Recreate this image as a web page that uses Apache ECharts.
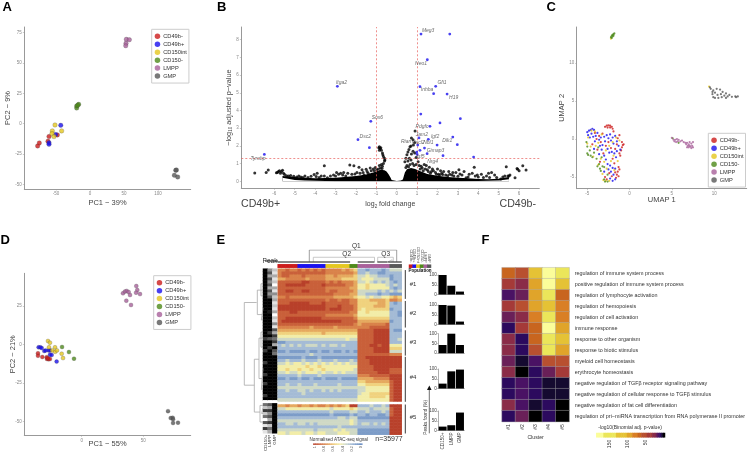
<!DOCTYPE html>
<html><head><meta charset="utf-8">
<style>html,body{margin:0;padding:0;background:#fff}#c{width:748px;height:454px}</style>
<script src="https://cdn.jsdelivr.net/npm/echarts@6/dist/echarts.min.js"></script>
</head><body><div id="c"></div>
<script>
const populations=['CD49b-','CD49b+','CD150int','CD150-','LMPP','GMP'];
const popColors=['#cc1b1b','#1a10ee','#e5c71f','#4e8a1a','#a8609a','#585858'];

// Panel A (PC1, PC2)
const aRed=[[-77,-18.4],[-74.5,-15.9],[-60.3,-10.7],[-61.8,-14.6],[-48,-9.3]];
const aBlue=[[-60.3,-15.7],[-60.3,-17],[-50.5,-9],[-43,-1.4]];
const aYellow=[[-51.5,-1.1],[-55.4,-6],[-55.9,-8.2],[-53,-10.7],[-41.7,-6]];
const aGreen=[[-19.6,12.9],[-19.6,14.6],[-16.7,15.9],[-18,15.1]];
const aLmpp=[[53.4,69.5],[57.8,69.2],[52.9,66.2],[52.5,64.3]];
const aGmp=[[126,-38.5],[124,-42.6],[128.9,-44],[127,-38.2]];
const aXTicks=[-50,0,50,100], aYTicks=[-50,-25,0,25,50,75];

// Panel D (PC1, PC2)
const dRed=[[-35.4,-5.6],[-35.4,-7.2],[-31.9,-8],[-28.4,-8.2],[-28.1,-9.3],[-26.8,-9.5],[-25.7,-9.3],[-27.5,-8.6]];
const dBlue=[[-34.9,-1.7],[-33.5,-1.7],[-32.4,-2.2],[-30.3,-4.1],[-29.2,-3.7],[-26.8,-3.7],[-25.7,-6.5],[-24.3,-6.7],[-20.3,-11],[-25.5,-3.8]];
const dYellow=[[-27.3,2.4],[-25.7,1.3],[-26.5,-1.7],[-21.6,-1.7],[-23.8,-3.7],[-21.4,-4.6],[-20,-3.7],[-16.2,-5.9],[-15.1,-8.7]];
const dGreen=[[-15.9,-1.5],[-10.3,-4.8],[-6.2,-9.1]];
const dLmpp=[[44.3,38.1],[45.1,35.5],[44.1,33.8],[47.3,32.9],[33.5,33.4],[35.1,34.5],[36.5,34.9],[38.1,34.2],[39.2,32.3],[36.2,28.6],[40,25.8]];
const dGmp=[[70,-43.2],[72.2,-47.7],[73.8,-47.5],[74.1,-48.5],[74.1,-50.9],[78.1,-50.7]];
const dXTicks=[0,50], dYTicks=[-50,-25,0,25];

// Panel C (UMAP)
const cRed=[[-2.9,1.6],[-2.7,1.75],[-2.5,1.8],[-2.3,1.75],[-2.1,1.6],[-2,1.35],[-2.6,1.5],[-2.3,1.5],[-1.9,1],[-1.2,0.5],[-0.9,-0.4],[-0.8,-0.8],[-0.7,-0.7],[-0.9,-1.1],[-1,-1.5],[-1.2,-1.9],[-1.1,-2.2],[-1.4,0.1],[-1.5,-0.7],[-1.7,-1.3],[-1.3,-3.7],[-1.2,-4],[-1.4,-4.3],[-1.5,-4.7],[-1.7,-4.4],[-1.3,-4.9],[-1.6,-5.1],[-2.1,-4.9],[-2.7,-5.3],[-2.9,-5],[-2.4,-4.5],[-4.1,0.8],[-3.9,0],[-3.6,0.4],[-3.4,-0.4],[-3.2,0.7],[-4.4,-0.7],[-3.8,-1.4],[-3.1,-1.9],[-2.8,-0.9],[-2.5,-0.4],[-2.2,-1.2],[-2,-2.6],[-3.5,-3],[-1.8,-3.2]];
const cBlue=[[-5,0.9],[-4.8,1.1],[-4.6,1.2],[-4.4,1.35],[-4.2,1.2],[-4.9,0.5],[-4.7,0.2],[-4.5,0.7],[-4.3,0.3],[-4.1,-0.3],[-3.8,0.8],[-3.6,-0.1],[-3.4,0.2],[-3.2,-0.8],[-3,0.3],[-2.9,-0.3],[-2.7,0.5],[-2.5,0.1],[-2.3,0.6],[-2.2,-0.2],[-2,0.2],[-1.9,-0.6],[-1.7,0.4],[-1.5,-0.3],[-1.3,-0.9],[-2.6,-1.3],[-2.4,-1.8],[-2.1,-1.7],[-1.8,-1.9],[-1.6,-2.4],[-3,-2.2],[-3.3,-1.4],[-3.6,-2],[-4.2,-1.3],[-2.8,-2.7],[-2.6,-3.3],[-2.3,-3.5],[-2,-3.8],[-1.7,-3.9],[-2.5,-4],[-2.2,-4.3],[-1.9,-4.7],[-1.7,-5.3],[-2,-5.5],[-2.3,-5.2],[-3,-4.3],[-1.1,-1.4],[-1.5,-1.6],[-3.5,-0.9],[-4,0.4]];
const cYellow=[[-4.9,0.2],[-4.5,1.1],[-4.1,1],[-5,-0.6],[-4.6,-1],[-4,-0.9],[-3.7,-0.5],[-3.3,0.6],[-2.8,-1.5],[-2.4,-0.9],[-2,-0.4],[-1.6,0.2],[-1.2,-0.2],[-1.9,-2.2],[-3.4,-2.6],[-3,-3],[-2.7,-3.9],[-3.2,-4.6],[-2.8,-5.5],[-2.4,-5.5],[-1.8,-4.1],[-2.2,-2.9],[-1.4,-2.9],[-3.1,-5.4],[-3.7,-3.4],[-4.3,-2.3],[-2.2,13.2],[9.4,6.9]];
const cGreen=[[-5.1,-0.4],[-5,-1],[-5,-1.9],[-4.9,-2.1],[-4.7,-1.5],[-4.6,-2.2],[-4.4,-2.4],[-4.2,-1.8],[-3.9,-2.6],[-3.8,-3.6],[-3.6,-3.3],[-3.5,-3.9],[-3.4,-4.2],[-3.2,-3.6],[-3,-3.7],[-2.6,-4.7],[-3,-5.3],[-2.9,-5.6],[-2.6,-5.6],[-3.7,-1.1],[-3.3,-2.4],[-2.2,13.4],[-2.1,13.6],[-2,13.7],[-1.9,13.8],[-2,13.5],[-1.8,13.9],[-2.1,13.3],[-1.9,13.6],[5.1,0.1],[5.8,-0.5]];
const cLmpp=[[5,0.15],[5.2,-0.1],[5.3,-0.3],[5.4,-0.1],[5.5,-0.4],[5.6,0],[5.7,-0.3],[5.8,-0.1],[6,-0.3],[6.2,-0.2],[6.4,-0.4],[6.6,-0.5],[6.7,-0.7],[6.8,-0.5],[6.9,-0.9],[7,-0.7],[7.1,-0.9],[7.2,-1],[7.3,-0.6],[7.4,-0.9],[7.5,-0.4],[7.5,-1.1],[7.3,-1.2],[7,-1.1],[6.8,-1.1],[7.1,-0.4]];
const cGmp=[[9.5,6.8],[9.6,6.6],[9.9,6.4],[10.3,6.6],[10.7,6.5],[10.1,6.1],[9.8,5.9],[9.9,5.5],[10.1,5.4],[10.4,5.8],[10.8,5.9],[11,6.2],[11.2,5.7],[11.4,6],[11.6,5.6],[11.8,5.8],[12.1,5.55],[12.5,5.6],[12.8,5.6],[12.6,5.5],[10.5,5.4],[9.8,6.2],[10.9,5.5],[11.4,5.4]];
const cXTicks=[-5,0,5,10], cYTicks=[-5,0,5,10];

// Panel B (log2 fold change, -log10 adjusted p)
const vTicksX=[-6,-5,-4,-3,-2,-1,0,1,2,3,4,5,6], vTicksY=[0,1,2,3,4,5,6,7,8];
const vSignificant=[[1.19,8.32],[2.6,8.32],[1.5,6.87],[-2.91,5.37],[1.14,5.35],[1.91,5.37],[1.81,4.95],[2.47,4.93],[1.18,3.8],[3.12,3.54],[-1.27,3.39],[2.12,3.3],[1.63,3.11],[1.09,2.45],[1.55,2.37],[2.75,2.5],[-1.9,2.35],[1.98,2.05],[2.97,2.07],[1.03,2.05],[-1.34,1.9],[1.36,1.88],[1.14,1.75],[1.49,1.56],[0.98,1.65],[2.27,1.45],[3.77,1.37],[-6.49,1.52],[1,1.52]];
const vCloudUpper=[[-5.6,0.3],[-5,0.25],[-4.5,0.2],[-4,0.17],[-3,0.2],[-2,0.3],[-1.5,0.38],[-1.2,0.48],[-1,0.55],[-0.8,0.65],[-0.6,0.62],[-0.5,0.55],[-0.4,0.4],[-0.3,0.2],[-0.25,0.08],[-0.2,0.04],[0,0.02],[0.2,0.04],[0.3,0.1],[0.35,0.3],[0.4,0.5],[0.5,0.68],[0.7,0.75],[0.9,0.7],[1.1,0.6],[1.5,0.42],[2,0.32],[2.5,0.25],[3,0.2],[3.5,0.17],[4,0.13],[4.5,0.12],[5,0.15],[5.5,0.25]];
const vCloudLower=[[-5.6,0.2],[-5,0.08],[-4.5,0.05],[-4,0.03],[-3,0.01],[-2,0],[2,0],[3,0],[4,0.02],[4.5,0.03],[5,0.05],[5.5,0.12]];
const vOutliers=[[-6.96,0.47],[-6.4,0.5],[-6.3,0.64],[-5.85,0.5],[-5.8,0.55],[-5.75,0.6],[-5.7,0.45],[-5.65,0.55],[-5.6,0.62],[-5.55,0.45],[-5.5,0.38],[-5.3,0.3],[-5.2,0.33],[-5.05,0.28],[-4.9,0.25],[-4.7,0.24],[-4.6,0.22],[-4.35,0.22],[-4.05,0.38],[-3.95,0.27],[-3.8,0.22],[-3.9,0.45],[-3.55,0.88],[-3.4,0.2],[-3.25,0.3],[-3,0.3],[-2.95,0.5],[-2.85,0.4],[-2.65,0.35],[-2.5,0.3],[-2.3,0.92],[-2.1,0.88],[-2.05,0.42],[-1.85,0.8],[-1.7,0.65],[-1.6,0.35],[-1.5,0.68],[-1.3,0.75],[-1.15,0.7],[-1.05,0.78],[-0.95,0.5],[-0.85,0.9],[-0.8,0.75],[-0.75,0.95],[-0.7,0.85],[-0.65,1],[-0.6,1.15],[-0.6,1.3],[-0.58,1.2],[-0.88,1.9],[-0.85,1.95],[-0.82,1.85],[-0.78,1.9],[-0.85,1.75],[-0.75,1.75],[-0.7,1.6],[-0.68,1.5],[-0.65,1.4],[0.72,2.45],[0.8,2.35],[0.88,2.2],[0.9,2.85],[0.82,2.05],[0.7,2],[0.65,1.95],[0.6,1.8],[0.55,1.65],[0.5,1.5],[0.45,1.3],[0.4,1.1],[0.55,1.15],[0.62,1.3],[0.72,1.55],[0.8,1.7],[0.88,1.6],[0.95,1.35],[0.7,1.2],[0.78,1],[0.5,0.9],[0.45,0.78],[0.58,0.82],[0.65,0.95],[0.85,0.9],[0.95,0.95],[1.05,1.1],[1.1,0.9],[1.2,0.85],[1.25,0.75],[1.35,0.95],[1.4,0.7],[1.45,0.9],[1.5,0.65],[1.6,0.8],[1.7,0.55],[1.8,0.6],[1.9,0.5],[2,0.7],[2.05,0.4],[2.15,0.6],[2.2,0.45],[2.3,0.55],[2.4,0.35],[2.55,0.55],[2.7,0.35],[2.8,0.3],[2.9,0.5],[3.05,0.65],[3.2,0.35],[3.3,0.55],[3.5,0.25],[3.7,0.45],[3.8,0.8],[3.85,0.3],[4,0.25],[4.15,0.4],[4.4,0.3],[4.5,0.45],[4.65,0.5],[4.8,0.35],[5.1,0.13],[5.37,0.82],[5.5,0.3],[5.55,0.35],[5.9,0.73],[5.93,0.68],[6.18,0.88],[6.34,0.64],[5.8,0.2],[6,0.6],[-5.9,0.48],[-5.4,0.32],[-4.8,0.3],[-4.5,0.3],[-4.2,0.28],[-3.7,0.3],[-3.55,0.3],[-3.1,0.35],[-2.75,0.45],[-2.6,0.5],[-2.4,0.45],[-2.2,0.4],[-1.95,0.5],[-1.8,0.45],[-1.65,0.5],[-1.45,0.55],[-1.4,0.45],[-1.25,0.6],[-1.1,0.6],[-0.98,0.65],[-0.9,0.7],[-0.72,0.72],[1.15,0.7],[1.3,0.6],[1.55,0.55],[1.65,0.45],[1.75,0.7],[1.95,0.4],[2.1,0.35],[2.25,0.38],[2.5,0.32],[2.6,0.4],[2.75,0.5],[3,0.28],[3.1,0.42],[3.4,0.2],[3.55,0.4],[3.95,0.35],[4.25,0.22],[4.55,0.22],[4.9,0.22],[5.2,0.25],[5.3,0.3],[5.45,0.3]];
const vGenes=[[1.54,8.51,'Meg3'],[1.19,6.67,'Neo1'],[-2.71,5.59,'Itga2'],[2.22,5.56,'Gfi1'],[1.49,5.16,'Inhba'],[2.79,4.75,'H19'],[-0.95,3.58,'Sox6'],[1.24,3.07,'Pdgfc'],[1.23,2.66,'Jam2'],[1.88,2.54,'Igf2'],[2.48,2.28,'Dlk1'],[-1.54,2.54,'Dsc2'],[0.46,2.24,'Rian'],[1.06,2.2,'Cxcl2'],[1.55,2.2,'Nbl1'],[1.9,1.75,'Gimap3'],[1.16,1.39,'Igf5'],[1.76,1.13,'Nrg4'],[-6.8,1.28,'Tyrobp']];

// Panel E heatmap: each string is one row, digit 0-9 = normalised signal x 9
const eColumns=['CD49b-','CD49b-','CD49b-','CD49b-','CD49b-','CD49b+','CD49b+','CD49b+','CD49b+','CD49b+','CD49b+','CD49b+','CD150int','CD150int','CD150int','CD150int','CD150int','CD150int','CD150-','CD150-','LMPP','LMPP','LMPP','LMPP','LMPP','LMPP','LMPP','LMPP','GMP','GMP','GMP'];
const eRows=[
"77877 8787878 777767 65 22122212 333",
"78888 8888888 777777 76 22322112 222",
"78877 7877777 667666 65 33433222 122",
"66777 7767777 666655 55 34443333 122",
"88888 8998888 787877 76 33432323 212",
"88999 9988889 888887 76 44544443 232",
"88888 8888888 777777 66 44544444 212",
"88998 8998888 788777 76 33333232 323",
"88888 8888888 887777 66 33222122 111",
"77877 7777777 776666 65 44343344 565",
"88888 8888888 788788 77 55566665 776",
"88899 9998889 888888 77 55555665 212",
"99999 9999999 888988 87 55556665 222",
"99999 9999999 899988 87 54555555 122",
"88899 8888888 888888 77 44544444 221",
"88888 8888888 777777 76 44444444 221",
"88999 9999998 888888 87 55555555 222",
"89999 9999999 999988 88 66666666 122",
"88888 8888888 888888 87 67777778 222",
"77777 7776777 776777 77 77788888 222",
"66666 6666666 666666 66 88889999 211",
"55555 5555556 555555 55 88889999 222",
"44444 4444444 444444 44 88889999 222",
"33333 3333333 333334 33 88889999 223",
"11222 2222222 222222 22 88889999 222",
"23232 3233323 233232 22 88899899 444",
"22222 2222222 222222 22 88889999 555",
"11211 1121121 121121 21 88889999 333",
"22222 2223222 222222 22 88888888 777",
"11111 1211121 111111 11 88999999 999",
"22322 2322232 223222 32 88899999 999",
"33434 4343434 343434 33 88899999 999",
"44444 4454454 444444 44 88889999 999",
"44544 5445445 444444 43 88889999 888",
"33433 4344434 334343 33 88888999 888",
"22222 3222232 222222 22 77788888 999",
"11211 2112112 111211 11 66667777 999",
"22222 2222222 222222 22 55666666 899",
"22322 3222322 222322 22 44555555 899",
"33333 3333333 333333 33 33444444 899",
"22322 3323223 232322 22 33444444 899",
"22222 2322222 222222 22 34455555 899",
"22222 2222222 222222 22 44455554 899",
"33333 3333333 333333 33 44444444 899",
"",
"66766 7667677 676765 99 22232232 999",
"33444 4444444 434444 54 33323333 899",
"22222 2222222 232222 33 22322232 899",
"11111 1111111 121111 21 22122112 899",
"22222 2222222 222332 33 11111111 999",
"33333 3333333 333333 43 22222222 999",
"22332 3323233 333333 43 23323232 999",
"22222 2222222 222322 22 22222222 999",
"33333 3333233 334343 33 11111111 999",
"44344 4344344 333444 33 11111111 999"];
const ePeakLabels=['CD150+','LMPP','GMP'];
const ePeakCD150="9999999999"+"9999999999"+"999799979"+"997999799799979"+"0"+"5272506171";
const ePeakLMPP ="4636463646"+"9999899999"+"979699799"+"999999999999999"+"0"+"6374637253";
const ePeakGMP  ="2131203142"+"3121302141"+"637573965"+"999999999999999"+"0"+"9999999999";
const eBarLabels=['CD150+','LMPP','GMP'];
const eBars1=[100,45,15], eBars2=[100,97,15], eBars3=[42,100,42], eBars4=[25,88,97], eBars5=[20,27,92];
const eSignalBar=[1,.95,.9,.85,.8,.75,.7,.65,.6,.55,.5,.45,.4,.35,.3,.25,.2,.15,.1,.05,0];
const eClusterRanges=[[0.45,10],[10.7,19.5],[20.4,28.8],[29.2,44.1],[45,54.6]];
const eRowDendro=[[[19,11.2],[56,11.2],[56,38.6],[26,38.6]],[[0,7.1],[17,7.1],[17,15.2],[0,15.2]],[[17,11.2],[19,11.2]],[[12,30],[26,30],[26,47.5],[9,47.5]],[[0,23],[12,23],[12,36.4],[0,36.4]],[[0,45.3],[9,45.3],[9,50.8],[0,50.8]],[[0,5],[6,5],[6,9],[0,9]],[[0,13],[5,13],[5,17],[0,17]],[[0,21],[6,21],[6,26],[0,26]],[[0,33],[5,33],[5,40],[0,40]],[[0,46],[4,46],[4,48],[0,48]]];
const eColDendroQ1=[[7.9,0],[7.9,37],[29.75,37],[29.75,0]];
const eColDendroQ2=[[8.9,0],[8.9,14],[24.2,14],[24.2,0]];
const eColDendroQ3=[[25,0],[25,14],[28.9,14],[28.9,0]];
const eColDendroQ4=[[27.6,0],[27.6,6],[28.6,6],[28.6,0]];
const eLeafRuns=[[[0,-2],[18.1,-2]],[[20,-2],[24.2,-2]],[[24.9,-2],[27.5,-2]],[[27.6,-2],[31,-2]]];

// Panel F
const fTerms=['regulation of immune system process','positive regulation of immune system process','regulation of lymphocyte activation','regulation of hemopoiesis','regulation of cell activation','immune response','response to other organism','response to biotic stimulus','myeloid cell homeostasis','erythrocyte homeostasis','negative regulation of TGFβ receptor signaling pathway','negative regulation of cellular response to TGFβ stimulus','negative regulation of fat cell differentiation','regulation of pri−miRNA transcription from RNA polymerase II promoter'];
const fClusters=['#1','#2','#3','#4','#5'];
const fValues=[[66,53,111,184,150],[40,26,95,184,111],[12,18,95,150,66],[40,53,95,111,80],[18,26,80,150,80],[8,40,66,184,95],[26,8,66,150,111],[26,8,53,150,95],[18,4,12,53,53],[26,0,8,18,40],[8,12,8,4,4],[8,12,8,4,4],[26,12,4,8,0],[8,18,0,8,0]];
const fScale=[185,180,175,170,165,160,155,150,145,140,135,130,125,120,115,110,105,100,95,90,85,80,75,70,65,60,55,50,45,40,35,30,25,20,15,10,5,0];
const fPieces=[{min:165,color:'#fbfd9a'},{min:130,max:165,color:'#ebe65a'},{min:103,max:130,color:'#e5c235'},{min:88,max:103,color:'#e0a42a'},{min:73,max:88,color:'#d97f25'},{min:60,max:73,color:'#c8651f'},{min:46,max:60,color:'#b85030'},{min:33,max:46,color:'#a53a38'},{min:22,max:33,color:'#8a2c48'},{min:15,max:22,color:'#6a2058'},{min:10,max:15,color:'#4a1264'},{min:6,max:10,color:'#2c0a5e'},{min:2,max:6,color:'#150a30'},{min:-1,max:2,color:'#000000'}];

const FONT='"Liberation Sans",Arial,sans-serif';
const grid=[],xAxis=[],yAxis=[],series=[],legend=[],graphic=[];
function addGrid(l,t,w,h){grid.push({left:l,top:t,width:w,height:h,containLabel:false});return grid.length-1;}
function txt(x,y,s,size,o){o=o||{};graphic.push({type:'text',x:x,y:y,rotation:o.rot||0,silent:true,z:50,style:{text:s,font:(o.weight||'normal')+' '+size+'px '+FONT,fill:o.color||'#333',textAlign:o.align||'center',textVerticalAlign:'middle'}});}
function valueAxes(g,xr,yr,xt,yt,xn,yn,xgap,ygap){
  const line={show:true,onZero:false,lineStyle:{color:'#999',width:1}};
  const lab={fontSize:4.5,color:'#888',margin:2.5};
  const nm={fontSize:7.5,color:'#444',fontFamily:FONT};
  xAxis.push({gridIndex:g,type:'value',min:xr[0],max:xr[1],splitLine:{show:false},axisLine:line,axisTick:{show:true,length:1.5,customValues:xt,lineStyle:{color:'#999',width:.5}},axisLabel:Object.assign({customValues:xt},lab),name:xn,nameLocation:'middle',nameGap:xgap,nameMoveOverlap:false,nameTextStyle:nm});
  yAxis.push({gridIndex:g,type:'value',min:yr[0],max:yr[1],splitLine:{show:false},axisLine:line,axisTick:{show:true,length:1.5,customValues:yt,lineStyle:{color:'#999',width:.5}},axisLabel:Object.assign({customValues:yt},lab),name:yn,nameLocation:'middle',nameGap:ygap,nameMoveOverlap:false,nameTextStyle:nm});
  return xAxis.length-1;
}
function groupScatter(ai,groups,size,bw){
  groups.forEach((d,i)=>series.push({type:'scatter',name:populations[i],xAxisIndex:ai,yAxisIndex:ai,data:d,symbolSize:size,itemStyle:{color:popColors[i],borderColor:'#444',borderWidth:bw}}));
}
function addLegend(l,t,pad){
  legend.push({show:true,data:populations,left:l,top:t,orient:'vertical',icon:'circle',itemWidth:5.5,itemHeight:5.5,itemGap:1.95,padding:pad,borderColor:'#ccc',borderWidth:1,backgroundColor:'#fff',selectedMode:false,z:20,itemStyle:{borderWidth:0},textStyle:{fontSize:5.7,color:'#333',fontFamily:FONT,padding:[0,0,0,-2]}});
}
function hidden(g,xr,yr,inverse){
  xAxis.push({gridIndex:g,type:'value',min:xr[0],max:xr[1],show:false});
  yAxis.push({gridIndex:g,type:'value',min:yr[0],max:yr[1],show:false,inverse:!!inverse});
  return xAxis.length-1;
}
function polyline(ai,pts,color,w){series.push({type:'line',xAxisIndex:ai,yAxisIndex:ai,data:pts,showSymbol:false,symbol:'none',silent:true,lineStyle:{color:color,width:w}});}
function catHeatmap(g,xcats,ycats,data,xo,yo,cellExtra){
  xAxis.push(Object.assign({gridIndex:g,type:'category',data:xcats,axisLine:{show:false},axisTick:{show:false},axisLabel:{show:false},splitLine:{show:false}},xo||{}));
  yAxis.push(Object.assign({gridIndex:g,type:'category',data:ycats,axisLine:{show:false},axisTick:{show:false},axisLabel:{show:false},splitLine:{show:false}},yo||{}));
  const ai=xAxis.length-1;
  series.push({type:'heatmap',xAxisIndex:ai,yAxisIndex:ai,data:data,silent:true,itemStyle:Object.assign({borderWidth:0},cellExtra||{}),progressive:0});
  return series.length-1;
}

// ---- A
let g=addGrid(24.3,27,166.4,162), ai=valueAxes(g,[-96.6,148],[-53.9,79.7],aXTicks,aYTicks,'PC1 − 39%','PC2 − 9%',10,12);
groupScatter(ai,[aRed,aBlue,aYellow,aGreen,aLmpp,aGmp],4.5,.3);
addLegend(151.7,29.3,[4,2,4,3]);
// ---- D
g=addGrid(24.3,273.3,166.4,162); ai=valueAxes(g,[-46.5,88.4],[-58.9,46.4],dXTicks,dYTicks,'PC1 − 55%','PC2 − 21%',5,7.6);
groupScatter(ai,[dRed,dBlue,dYellow,dGreen,dLmpp,dGmp],4,.3);
addLegend(153.7,275.7,[4,2,4,3]);
// ---- C
g=addGrid(576.7,27,170,161.7); ai=valueAxes(g,[-6.25,13.85],[-6.54,14.74],cXTicks,cYTicks,'UMAP 1','UMAP 2',7.3,11);
groupScatter(ai,[cRed,cBlue,cYellow,cGreen,cLmpp,cGmp],2.2,0);
addLegend(708.3,133.3,[4,2,4,3]);
// ---- B
g=addGrid(241.3,27,298,161.3);
ai=valueAxes(g,[-7.62,6.99],[-0.395,8.72],vTicksX,vTicksY,'','',11,11.5);
xAxis[ai].name='{a|log}{s|2}{a| fold change}';
xAxis[ai].nameTextStyle={rich:{a:{fontSize:7,color:'#444',fontFamily:FONT},s:{fontSize:4.5,color:'#444',verticalAlign:'bottom',fontFamily:FONT,padding:[4,0,0,0]}}};
xAxis[ai].nameGap=11.7;
yAxis[ai].name='{a|−log}{s|10}{a| adjusted p−value}';
yAxis[ai].nameTextStyle={rich:{a:{fontSize:7.3,color:'#444',fontFamily:FONT},s:{fontSize:4.5,color:'#444',fontFamily:FONT,padding:[4,0,0,0]}}};
yAxis[ai].nameGap=8;
const areaLine=(d,c,z)=>series.push({type:'line',xAxisIndex:ai,yAxisIndex:ai,data:d,showSymbol:false,symbol:'none',silent:true,lineStyle:{width:0},itemStyle:{color:c},areaStyle:{color:c,opacity:1},z:z});
areaLine(vCloudUpper,'#000',2);
areaLine(vCloudLower,'#fff',3);
series.push({type:'scatter',xAxisIndex:ai,yAxisIndex:ai,data:vOutliers,symbolSize:3,itemStyle:{color:'#000'},z:4});
series.push({type:'scatter',xAxisIndex:ai,yAxisIndex:ai,data:vSignificant,symbolSize:2.8,itemStyle:{color:'#1a10ee'},z:5,
  markLine:{silent:true,symbol:'none',label:{show:false},animation:false,lineStyle:{color:'#e8605c',type:[2,2],width:.7},data:[{xAxis:-1},{xAxis:1},{yAxis:1.3}]}});
series.push({type:'scatter',xAxisIndex:ai,yAxisIndex:ai,data:vGenes,symbolSize:1,itemStyle:{color:'transparent'},z:6,silent:true,
  label:{show:true,position:'inside',fontSize:5,fontStyle:'italic',color:'#444',fontFamily:FONT,formatter:p=>p.data[2]},labelLayout:{hideOverlap:false}});

// ---- E heatmap
const eCells=[];
eRows.forEach((r,ri)=>{const s=r.replace(/ /g,'');for(let c=0;c<s.length;c++)eCells.push([c,ri,+s[c]/9]);});
const rowCats=eRows.map((_,i)=>String(i));
const colCats=eColumns.map((_,i)=>String(i));
g=addGrid(277.7,268.7,124,166);
const sE=catHeatmap(g,colCats,rowCats,eCells,null,{inverse:true});
g=addGrid(277.7,264.3,124,3.4);
const sPop=catHeatmap(g,colCats,['p'],eColumns.map((n,i)=>[i,0,populations.indexOf(n)]));
g=addGrid(409,264.7,22,3);
const sKey=catHeatmap(g,populations,['k'],populations.map((n,i)=>[i,0,i]),{position:'top',axisLabel:{show:true,rotate:90,fontSize:3.8,color:'#555',margin:2,interval:0,fontFamily:FONT}});
const peakCols=[ePeakCD150,ePeakLMPP,ePeakGMP], peakCells=[];
peakCols.forEach((s,c)=>{for(let r=0;r<s.length;r++)peakCells.push([c,r,+s[r]]);});
g=addGrid(263,268.7,14,166);
const sPeak=catHeatmap(g,ePeakLabels,rowCats,peakCells,{axisLabel:{show:true,rotate:90,fontSize:4.4,color:'#444',margin:1.5,interval:0,fontFamily:FONT}},{inverse:true});
g=addGrid(313.3,443.7,49,3.6);
const sSig=catHeatmap(g,eSignalBar.map(String),['s'],eSignalBar.map((v,i)=>[i,0,v]),{axisLabel:{show:true,rotate:90,fontSize:3.8,color:'#555',margin:1.5,interval:3,fontFamily:FONT}});
g=addGrid(244.3,268.7,18.7,166); ai=hidden(g,[56,0],[0,55],true);
eRowDendro.forEach(p=>polyline(ai,p,'#a8a8a8',.8));
g=addGrid(277.7,250,124,12); ai=hidden(g,[0,31],[-1,37]);
polyline(ai,eColDendroQ1,'#888',.8);polyline(ai,eColDendroQ2,'#bbb',.8);polyline(ai,eColDendroQ3,'#bbb',.8);polyline(ai,eColDendroQ4,'#bbb',.8);
g=addGrid(277.7,260,124,4); ai=hidden(g,[0,31],[-4,0]);
eLeafRuns.forEach(p=>polyline(ai,p,'#111',1.2));
g=addGrid(265,260,13,4); ai=hidden(g,[0,1],[-4,0]);
polyline(ai,[[0,-1],[1,-1]],'#111',1);
g=addGrid(404.8,268.7,1,166); ai=hidden(g,[0,1],[0,55],true);
eClusterRanges.forEach(r=>polyline(ai,[[.5,r[0]],[.5,r[1]]],'#222',.9));
[[275,eBars1],[305,eBars2],[333.7,eBars3],[369,eBars4],[411,eBars5]].forEach((b,i)=>{
  const gi=addGrid(438.3,b[0],26,19.5);
  xAxis.push({gridIndex:gi,type:'category',data:eBarLabels,axisLine:{lineStyle:{color:'#999',width:.8}},axisTick:{show:false},axisLabel:{show:i===4,rotate:90,fontSize:4.6,color:'#444',margin:2,interval:0,fontFamily:FONT}});
  yAxis.push({gridIndex:gi,type:'value',min:0,max:100,interval:50,splitLine:{show:false},axisLine:{show:true,lineStyle:{color:'#999',width:.8}},axisTick:{show:true,length:1.5,lineStyle:{color:'#999',width:.5}},axisLabel:{fontSize:4.6,color:'#444',margin:1.5,fontFamily:FONT}});
  const a=xAxis.length-1;
  series.push({type:'bar',xAxisIndex:a,yAxisIndex:a,data:b[1],barCategoryGap:'8%',itemStyle:{color:'#000'},silent:true});
});

// ---- F
const fCells=[];
fValues.forEach((r,ri)=>r.forEach((v,ci)=>fCells.push([ci,ri,v])));
g=addGrid(502,267.7,68,154);
const sF=catHeatmap(g,fClusters,fTerms,fCells,
  {name:'Cluster',nameLocation:'middle',nameGap:13.5,nameTextStyle:{fontSize:5.2,color:'#333',fontFamily:FONT},axisLabel:{show:true,rotate:90,fontSize:5,color:'#333',margin:2.5,interval:0,fontFamily:FONT}},
  {inverse:true,position:'right',axisLabel:{show:true,fontSize:5.4,color:'#333',margin:5.5,interval:0,fontFamily:FONT}},
  {borderColor:'#aaa',borderWidth:.4});
g=addGrid(596.3,433,68.7,4.3);
const sFBar=catHeatmap(g,fScale.map(String),['f'],fScale.map((v,i)=>[i,0,v]),{axisLabel:{show:true,rotate:90,fontSize:5,color:'#333',margin:2.5,fontFamily:FONT,interval:(i,v)=>v==='150'||v==='100'||v==='50'}});

const visualMap=[
 {type:'continuous',show:false,seriesIndex:[sE,sSig],min:0,max:1,inRange:{color:['#5a82bd','#7c9cc8','#a4bbd5','#cfd9c5','#f2eda8','#f0d27e','#e5a95f','#d9824a','#c9603a','#b8402a']}},
 {type:'continuous',show:false,seriesIndex:[sPeak],min:0,max:9,inRange:{color:['#ffffff','#000000']}},
 {type:'piecewise',show:false,seriesIndex:[sPop,sKey],pieces:popColors.map((c,i)=>({value:i,color:c}))},
 {type:'piecewise',show:false,seriesIndex:[sF,sFBar],pieces:fPieces}
];

// ---- text
[['A',2.5,7],['B',217,7],['C',546.5,7],['D',0.5,240],['E',216.5,240],['F',481.5,240]].forEach(l=>txt(l[1],l[2],l[0],13,{align:'left',weight:'bold',color:'#000'}));
txt(241,204,'CD49b+',10.6,{align:'left',color:'#444'});
txt(536,204,'CD49b-',10.6,{align:'right',color:'#444'});
txt(270,261,'Peak',6.5);
txt(356.3,246.3,'Q1',6.5);txt(346.7,254.3,'Q2',6.5);txt(385.7,254.3,'Q3',6.5);
[284.3,313.3,342,377,417.3].forEach((y,i)=>txt(413,y,'#'+(i+1),6));
txt(338.7,439.3,'Normalised ATAC-seq signal',4.6);
txt(389,438.7,'n=35977',7);
txt(420,270.3,'Population',4.5,{weight:'bold',color:'#111'});
txt(425.7,417.3,'Peaks found (%)',4.7,{rot:Math.PI/2});
txt(630,428,'-log10(Binomial adj. p-value)',5);
graphic.push({type:'line',silent:true,shape:{x1:429.3,y1:433.3,x2:429.3,y2:388},style:{stroke:'#333',lineWidth:.7}});
graphic.push({type:'polygon',silent:true,shape:{points:[[429.3,385.5],[427,390],[431.6,390]]},style:{fill:'#111'}});

const chart=echarts.init(document.getElementById('c'),null,{renderer:'canvas'});
chart.setOption({animation:false,textStyle:{fontFamily:FONT},tooltip:{show:false},grid,xAxis,yAxis,legend,visualMap,series,graphic});
</script></body></html>
